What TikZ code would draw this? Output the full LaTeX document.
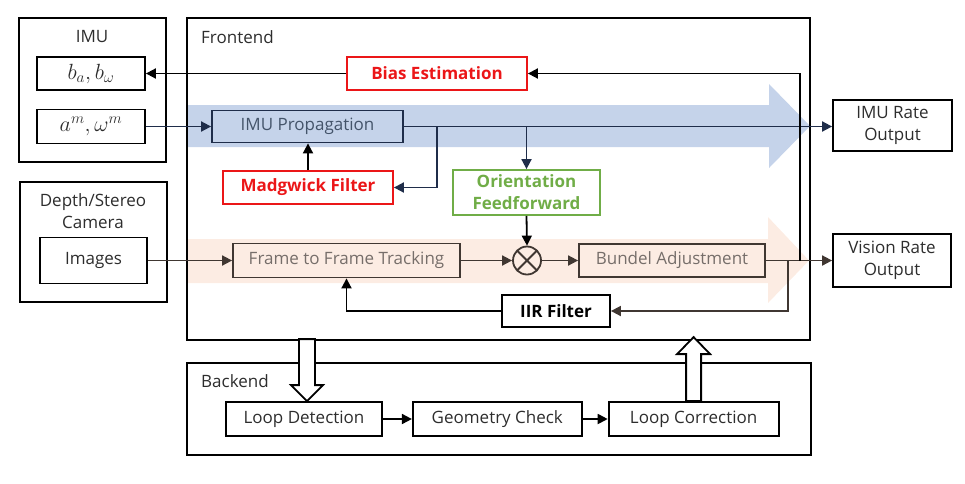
\RequirePackage{fix-cm}
\documentclass[tikz,border=0pt]{standalone}
\usepackage{fontspec}
\setmainfont{Open Sans}
\usetikzlibrary{positioning,arrows.meta}

\definecolor{imublue}{RGB}{197,211,234}
\definecolor{navy}{RGB}{31,45,74}
\definecolor{navytext}{RGB}{68,84,106}
\definecolor{peach}{RGB}{252,236,227}
\definecolor{umber}{RGB}{64,55,50}
\definecolor{umbertext}{RGB}{118,110,106}
\definecolor{biasred}{RGB}{235,22,24}
\definecolor{ffgreen}{RGB}{112,173,71}
\definecolor{txtgray}{RGB}{45,45,45}

\begin{document}
\begin{tikzpicture}[x=1pt, y=-1pt,
						font=\fontsize{17}{22}\selectfont,
						group/.style={rectangle, draw=black, line width=1.8pt, inner sep=0pt},
						title/.style={inner sep=0pt, text=txtgray, align=center},
						block/.style={rectangle, draw=black, line width=1.8pt, inner sep=0pt, align=center, text=txtgray},
						mathblock/.style={block, font=\fontsize{22}{24}\selectfont},
						redblock/.style={block, draw=biasred, text=biasred, font=\fontsize{17}{22}\selectfont\bfseries},
						greenblock/.style={block, draw=ffgreen, text=ffgreen, font=\fontsize{17}{22}\selectfont\bfseries},
						imublock/.style={block, draw=navy, fill=imublue, text=navytext},
						visblock/.style={block, draw=umber, fill=peach, text=umbertext},
						mixer/.style={circle, draw=umber, line width=1.8pt, minimum size=28pt, inner sep=0pt,
							path picture={\draw[umber, line width=1.8pt] (path picture bounding box.north west) -- (path picture bounding box.south east)
								(path picture bounding box.south west) -- (path picture bounding box.north east);}},
						arr/.style={line width=1.8pt, -{Triangle[length=10pt, width=10pt]}},
						hollow/.style={draw=black, fill=white, line width=1.8pt}
					]
					\useasboundingbox (0,0) rectangle (965,483);
					% rate bands
					\fill[imublue] (188,105) -- (769,105) -- (769,84) -- (810,126) -- (769,168) -- (769,147) -- (188,147) -- cycle;
					\fill[peach] (188,239) -- (768,239) -- (768,217) -- (809,260.5) -- (768,303) -- (768,283) -- (188,283) -- cycle;
					% sensors
					\node[group, minimum width=147pt, minimum height=144pt] (imu) at (92.5,90) {};
					\node[title] (imutitle) at (92,37) {IMU};
					\node[mathblock, minimum width=108pt, minimum height=33pt] (bias) at (91,73.5) {$b_a, b_\omega$};
					\node[mathblock, minimum width=108pt, minimum height=34pt] (meas) at (91,126.5) {$a^m, \omega^m$};
					\node[group, minimum width=147pt, minimum height=120pt] (camera) at (93.5,242) {};
					\node[title] (camtitle) at (93,211) {Depth/Stereo\\Camera};
					\node[block, minimum width=107pt, minimum height=46pt] (images) at (93.5,260.5) {Images};
					% frontend
					\node[group, minimum width=623pt, minimum height=322pt] (frontend) at (498.5,179) {};
					\node[title, anchor=west] (fronttitle) at (201,37) {Frontend};
					\node[redblock, minimum width=180pt, minimum height=33pt] (biasest) at (437,73.5) {Bias Estimation};
					\node[imublock, minimum width=191pt, minimum height=32pt] (imuprop) at (307.5,126.5) {IMU Propagation};
					\node[redblock, minimum width=170pt, minimum height=33pt] (madgwick) at (308,187.5) {Madgwick Filter};
					\node[greenblock, minimum width=147pt, minimum height=45pt] (orient) at (526.5,192.5) {Orientation\\Feedforward};
					\node[visblock, minimum width=227pt, minimum height=34pt] (tracking) at (346.5,260.5) {Frame to Frame Tracking};
					\node[mixer] (mix) at (527,260.5) {};
					\node[visblock, minimum width=186pt, minimum height=33pt] (bundle) at (672,260.5) {Bundel Adjustment};
					\node[block, text=black, font=\fontsize{17}{22}\selectfont\bfseries, minimum width=108pt, minimum height=32pt] (iir) at (556,311) {IIR Filter};
					% outputs
					\node[block, minimum width=119pt, minimum height=51pt] (imuout) at (892.5,125.5) {IMU Rate\\Output};
					\node[block, minimum width=118pt, minimum height=53pt] (visout) at (892,260.5) {Vision Rate\\Output};
					% backend
					\node[group, minimum width=624pt, minimum height=92pt] (backend) at (499,409) {};
					\node[title, anchor=west] (backtitle) at (201,381) {Backend};
					\node[block, minimum width=156pt, minimum height=34pt] (loopdet) at (304,419) {Loop Detection};
					\node[block, minimum width=169pt, minimum height=34pt, right=29pt of loopdet] (geocheck) {Geometry Check};
					\node[block, minimum width=170pt, minimum height=34pt, right=25pt of geocheck] (loopcorr) {Loop Correction};
					% connectors
					\draw[arr, navy] (meas.east) -- (imuprop.west);
					\draw[arr, navy] (imuprop.east) -- (imuprop.east -| imuout.west);
					\draw[arr, navy] ([xshift=33pt]imuprop.east) |- (madgwick.east);
					\draw[arr, navy] (orient.north |- imuprop.east) -- (orient.north);
					\draw[arr] (madgwick.north) -- (madgwick.north |- imuprop.south);
					\draw[arr] (orient.south) -- (mix.north);
					\draw[arr, umber] (images.east) -- (tracking.west);
					\draw[arr, umber] (tracking.east) -- (mix.west);
					\draw[arr, umber] (mix.east) -- (bundle.west);
					\draw[arr, umber] (bundle.east) -- (visout.west);
					\draw[arr] ([xshift=34pt]bundle.east) |- (biasest.east);
					\draw[arr, umber] ([xshift=22pt]bundle.east) |- (iir.east);
					\draw[arr] (iir.west) -| (tracking.south);
					\draw[arr] (biasest.west) -- (bias.east);
					\draw[arr] (loopdet.east) -- (geocheck.west);
					\draw[arr] (geocheck.east) -- (loopcorr.west);
					% loop closure
					\draw[hollow] ([xshift=3pt]loopdet.north) -- ++(16,-16) -- ++(-8,0) -- ++(0,-46) -- ++(-16,0) -- ++(0,46) -- ++(-8,0) -- cycle;
					\draw[hollow] (loopcorr.north) -- ++(7.5,0) -- ++(0,-47) -- ++(9,0) -- ++(-16.5,-17) -- ++(-16.5,17) -- ++(9,0) -- ++(0,47) -- cycle;
\end{tikzpicture}
\end{document}
